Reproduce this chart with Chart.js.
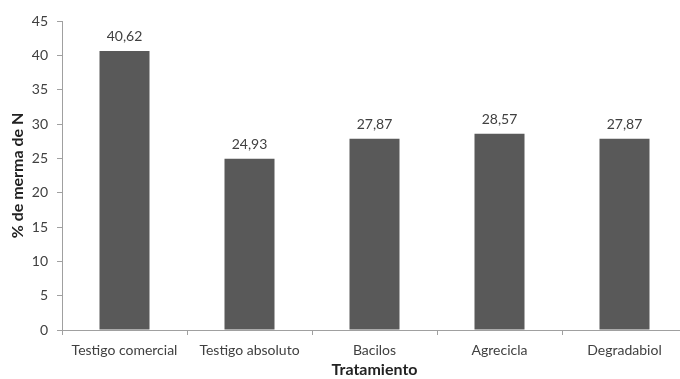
<!DOCTYPE html>
<html>
<head>
<meta charset="utf-8">
<script src="https://cdn.jsdelivr.net/npm/chart.js@4"></script>
<style>
  html, body { margin: 0; padding: 0; background: #fff; overflow: hidden; }
  #wrap { width: 688px; height: 379px; position: relative; }
</style>
</head>
<body>
<div id="wrap"><canvas id="c"></canvas></div>
<script>
// Treatments and nitrogen loss (%)
const categories = ["Testigo comercial", "Testigo absoluto", "Bacilos", "Agrecicla", "Degradabiol"];
const mermaN = [40.62, 24.93, 27.87, 28.57, 27.87];
const yTicks = [0, 5, 10, 15, 20, 25, 30, 35, 40, 45];

const FONT = "Lato, 'Open Sans', sans-serif";
const TEXT = "#404040";
const AXIS = "#a0a0a0";

// Writes each bar's value above it, with a decimal comma
const valueLabels = {
  id: "valueLabels",
  afterDatasetsDraw(chart) {
    const ctx = chart.ctx;
    const meta = chart.getDatasetMeta(0);
    ctx.save();
    ctx.font = "14px " + FONT;
    ctx.fillStyle = TEXT;
    ctx.textAlign = "center";
    ctx.textBaseline = "alphabetic";
    meta.data.forEach((bar, i) => {
      const txt = mermaN[i].toFixed(2).replace(".", ",");
      ctx.fillText(txt, bar.x, bar.y - 10);
    });
    ctx.restore();
  }
};

new Chart(document.getElementById("c"), {
  type: "bar",
  data: {
    labels: categories,
    datasets: [{
      data: mermaN,
      backgroundColor: "#595959",
      borderWidth: 0,
      barPercentage: 0.4,
      categoryPercentage: 1.0
    }]
  },
  options: {
    responsive: true,
    maintainAspectRatio: false,
    animation: false,
    layout: { padding: { top: 21, right: 1, bottom: 0, left: 0 } },
    plugins: { legend: { display: false }, tooltip: { enabled: false } },
    scales: {
      x: {
        offset: true,
        grid: { display: true, offset: true, drawOnChartArea: false, drawTicks: true, tickLength: 5, color: AXIS, lineWidth: 1 },
        border: { display: true, color: AXIS, width: 1 },
        ticks: { color: TEXT, font: { family: FONT, size: 14 }, padding: 7, maxRotation: 0 },
        title: { display: true, text: "Tratamiento", color: "#222", font: { family: FONT, size: 16, weight: "bold" }, padding: { top: 0, bottom: 0 } },
        afterFit(scale) { scale.height = 49; }
      },
      y: {
        min: 0,
        max: 45,
        afterBuildTicks(scale) { scale.ticks = yTicks.map(v => ({ value: v })); },
        grid: { display: true, drawOnChartArea: false, drawTicks: true, tickLength: 5, color: AXIS, lineWidth: 1 },
        border: { display: true, color: AXIS, width: 1 },
        ticks: { color: TEXT, font: { family: FONT, size: 14 }, padding: 9 },
        title: { display: true, text: "% de merma de N", color: "#222", font: { family: FONT, size: 16, weight: "bold" }, padding: { top: 8, bottom: 0 } },
        afterFit(scale) { scale.width = 62; }
      }
    }
  },
  plugins: [valueLabels]
});
</script>
</body>
</html>
